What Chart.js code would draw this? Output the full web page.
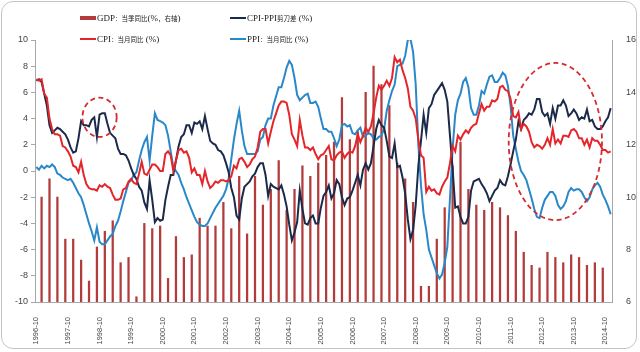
<!DOCTYPE html>
<html><head><meta charset="utf-8">
<script src="https://cdn.jsdelivr.net/npm/chart.js@4/dist/chart.umd.min.js"></script>
<style>
html,body{margin:0;padding:0;background:#fff;}
#wrap{position:relative;width:640px;height:352px;overflow:hidden;background:#fff;}
#frame{position:absolute;left:1px;top:1px;width:634px;height:346px;border:1px solid #c4c4c4;border-radius:12px;pointer-events:none;}
#c{position:absolute;left:0;top:0;}
#legend{position:absolute;left:0;top:0;width:640px;height:50px;font-family:"Liberation Serif","Times New Roman",serif;font-size:9px;color:#222;}
.item{position:absolute;height:12px;display:flex;align-items:center;white-space:nowrap;}
.sw{display:inline-block;width:16px;margin-right:1px;}
.cjk{font-family:"Noto Sans CJK SC",sans-serif;font-size:6.5px;}
</style></head>
<body>
<div id="wrap">
<canvas id="c" width="640" height="352"></canvas>
<div id="legend"></div>
<div id="frame"></div>
</div>
<script>
// ---- data ----
const startYear = 1996, startMonth = 10, monthCount = 219;   // 1996-10 .. 2014-12
const cpi = [
 7.0,6.9,7.0,
 5.9,5.6,4.0,3.2,2.8,2.8,2.7,1.9,1.8,1.5,1.1,0.4,
 0.3,-0.1,0.7,-0.3,-1.0,-1.3,-1.4,-1.4,-1.5,-1.1,-1.2,-1.0,
 -1.2,-1.3,-1.8,-2.2,-2.2,-2.1,-1.4,-1.3,-0.8,-0.6,-0.9,-1.0,
 -0.2,0.7,-0.2,-0.3,0.1,0.5,0.5,0.3,0.0,0.0,1.3,1.5,
 1.2,0.0,0.8,1.6,1.7,1.4,1.5,1.0,-0.1,0.2,-0.3,-0.3,
 -1.0,0.0,-0.8,-1.3,-1.1,-0.8,-0.9,-0.7,-0.7,-0.8,-0.7,-0.4,
 0.4,0.2,0.9,1.0,0.7,0.3,0.5,0.9,1.1,1.8,3.0,3.2,
 3.2,2.1,3.0,3.8,4.4,5.0,5.3,5.3,5.2,4.3,2.8,2.4,
 1.9,3.9,2.7,1.8,1.8,1.6,1.8,1.3,0.9,1.2,1.3,1.6,
 1.9,0.9,0.8,1.2,1.4,1.5,1.0,1.3,1.5,1.4,1.9,2.8,
 2.2,2.7,3.3,3.0,3.4,4.4,5.6,6.5,6.2,6.5,6.9,6.5,
 7.1,8.7,8.3,8.5,7.7,7.1,6.3,4.9,4.6,4.0,2.4,1.2,
 1.0,-1.6,-1.2,-1.5,-1.4,-1.7,-1.8,-1.2,-0.8,-0.5,0.6,1.9,
 1.5,2.7,2.4,2.8,3.1,2.9,3.3,3.5,3.6,4.4,5.1,4.6,
 4.9,4.9,5.4,5.3,5.5,6.4,6.5,6.2,6.1,5.5,4.2,4.1,
 4.5,3.2,3.6,3.4,3.0,2.2,1.8,2.0,1.9,1.7,2.0,2.5,
 2.0,3.2,2.1,2.4,2.1,2.7,2.7,2.6,3.1,3.2,3.0,2.5,
 2.5,2.0,2.4,1.8,2.5,2.3,2.3,2.0,1.6,1.6,1.4,1.5
];
const ppi = [
 0.3,0.1,0.4,
 0.2,0.4,0.3,0.5,0.3,-0.2,-0.3,-0.5,-0.6,-0.7,-0.6,-0.9,
 -1.3,-1.7,-2.0,-2.6,-3.3,-4.0,-4.6,-5.3,-4.3,-5.4,-5.6,-5.6,
 -5.3,-5.0,-4.8,-4.2,-3.8,-3.1,-2.3,-1.6,-0.9,-0.7,-0.3,-0.1,
 0.8,1.6,2.2,2.6,0.8,2.7,4.4,3.9,3.8,3.7,3.5,2.7,
 1.5,0.3,0.0,-0.3,-0.9,-1.4,-2.0,-2.5,-3.0,-3.5,-3.9,-4.1,
 -4.2,-4.2,-4.0,-3.6,-3.2,-2.8,-2.5,-2.2,-1.9,-1.4,-0.6,0.9,
 2.4,3.6,4.6,3.1,1.9,1.3,1.3,1.3,1.3,1.5,2.4,2.6,
 3.5,4.0,4.0,5.0,5.7,6.4,6.4,7.1,7.9,8.4,8.1,7.1,
 5.8,5.4,5.6,5.8,5.9,5.2,5.2,5.3,4.9,4.0,3.2,3.2,
 3.0,3.0,2.5,1.9,2.4,3.5,3.6,3.4,3.5,2.9,2.8,3.1,
 3.3,2.6,2.7,2.9,2.8,2.5,2.4,2.6,2.7,3.2,4.6,5.4,
 6.1,6.6,8.0,8.1,8.2,8.8,10.0,10.1,9.1,6.6,2.0,-1.1,
 -3.3,-4.5,-6.0,-6.6,-7.2,-7.8,-8.2,-7.9,-7.0,-5.8,-2.1,1.7,
 4.3,5.4,5.9,6.8,7.1,6.4,4.8,4.3,4.3,5.0,6.1,5.9,
 6.6,7.2,7.3,6.8,6.8,7.1,7.5,7.3,6.5,5.0,2.7,1.7,
 0.7,0.0,-0.3,-0.7,-1.4,-2.1,-2.9,-3.5,-3.6,-2.8,-2.2,-1.9,
 -1.6,-1.6,-1.9,-2.6,-2.9,-2.7,-2.3,-1.6,-1.3,-1.5,-1.4,-1.4,
 -1.6,-2.0,-2.3,-2.0,-1.4,-1.1,-0.9,-1.2,-1.8,-2.2,-2.7,-3.3
];
const spread = [
 6.9,7.0,6.8,
 5.9,5.0,3.5,2.9,3.1,3.3,3.2,3.0,2.8,2.4,1.8,1.4,
 1.5,2.5,3.8,3.5,3.5,3.4,3.9,4.1,2.6,4.3,4.4,4.4,
 3.6,2.9,2.7,2.5,1.7,1.3,1.3,1.2,0.8,0.2,-0.3,-0.6,
 -1.2,-1.5,-2.4,-2.9,-0.7,-2.2,-3.9,-3.6,-3.8,-3.7,-2.2,-1.2,
 -0.3,-0.3,0.8,1.9,2.6,2.8,3.5,3.5,2.9,3.7,3.6,3.8,
 3.2,4.2,3.2,2.3,2.1,2.0,1.6,1.5,1.2,0.6,-0.1,-1.3,
 -2.0,-3.4,-3.7,-2.1,-1.2,-1.0,-0.8,-0.4,-0.2,0.3,0.6,0.6,
 -0.3,-1.9,-1.0,-1.2,-1.3,-1.4,-1.1,-1.8,-2.7,-4.1,-5.3,-4.7,
 -3.9,-1.5,-2.9,-4.0,-4.1,-3.6,-3.4,-4.0,-4.0,-2.8,-1.9,-1.6,
 -1.1,-2.1,-1.7,-0.7,-1.0,-2.0,-2.6,-2.1,-2.0,-1.5,-0.9,-0.3,
 -1.1,0.1,0.6,0.1,0.6,1.9,3.2,3.9,3.5,3.3,2.3,1.1,
 1.0,2.1,0.3,0.4,-0.5,-1.7,-3.7,-5.2,-4.5,-2.6,0.4,2.3,
 4.3,2.9,4.8,5.1,5.8,6.1,6.4,6.7,6.2,5.3,2.7,0.2,
 -2.8,-2.7,-3.5,-4.0,-4.0,-3.5,-1.5,-0.8,-0.7,-0.6,-1.0,-1.3,
 -1.7,-2.3,-1.9,-1.5,-1.3,-0.7,-1.0,-1.1,-0.4,0.5,1.5,2.4,
 3.8,3.2,3.9,4.1,4.4,4.3,4.7,5.5,5.5,4.5,4.2,4.4,
 3.6,4.8,4.0,5.0,5.0,5.4,5.0,4.2,4.4,4.7,4.4,3.9,
 4.1,4.0,4.7,3.8,3.9,3.4,3.2,3.2,3.4,3.8,4.1,4.8
];
// quarterly GDP (right axis), quarters ending 1996-12 .. 2014-09
const gdpFirstQuarterEnd = '1996-12';
const gdp = [
 10.0,
 10.7,10.0,8.4,8.4,
 7.6,6.8,8.1,8.7,
 9.1,7.5,7.7,6.2,
 9.0,8.8,8.9,6.9,
 8.5,7.7,7.8,9.2,
 8.9,8.9,9.8,8.8,
 10.8,8.6,10.8,9.7,
 10.3,11.4,9.5,10.3,
 11.2,10.8,11.3,11.6,
 12.1,13.8,12.2,12.5,
 14.0,15.0,14.3,13.5,
 11.3,10.7,9.8,6.6,
 6.6,8.4,9.6,11.2,
 12.1,10.3,9.7,9.5,
 9.8,9.6,9.3,8.7,
 7.9,7.4,7.3,7.9,
 7.7,7.5,7.8,7.7,
 7.4,7.5,7.3
];
const seriesNames = {
  gdp: 'GDP：当季同比(%，右轴)',
  spread: 'CPI-PPI剪刀差 (%)',
  cpi: 'CPI：当月同比 (%)',
  ppi: 'PPI：当月同比 (%)'
};
const leftTicks = {min:-10, max:10, step:2};
const rightTicks = {min:6, max:16, step:2};
const tickEvery = 12;

// ---- build category labels ----
const months = [];
for (let i = 0; i < monthCount; i++) {
  const t = (startMonth - 1) + i;
  const y = startYear + Math.floor(t / 12);
  const m = t % 12 + 1;
  months.push(y + '-' + (m < 10 ? '0' + m : '' + m));
}
const gdpStart = months.indexOf(gdpFirstQuarterEnd);
const gdpMonthly = months.map(() => null);
gdp.forEach((v, q) => { gdpMonthly[gdpStart + q * 3] = v; });

// annotation ellipses (in data units)
const ellipses = [
  {center:'1998-10', value:4.1, halfMonths:6.5, halfValue:1.5},
  {center:'2013-03', value:2.25, halfMonths:17.7, halfValue:6.0}
];

const COLORS = {gdp:'#b23b3b', spread:'#1c2a4a', cpi:'#e4262b', ppi:'#2a88c9', ellipse:'#d52a30'};

const ellipsePlugin = {
  id:'ellipses',
  afterDatasetsDraw(chart) {
    const {ctx, scales:{x, y}} = chart;
    const step = x.getPixelForValue(1) - x.getPixelForValue(0);
    ctx.save();
    ctx.strokeStyle = COLORS.ellipse;
    ctx.lineWidth = 1.8;
    ctx.setLineDash([5, 3.5]);
    ellipses.forEach(e => {
      const idx = months.indexOf(e.center);
      const cx = x.getPixelForValue(idx);
      const cy = y.getPixelForValue(e.value);
      const rx = e.halfMonths * step;
      const ry = Math.abs(y.getPixelForValue(e.value + e.halfValue) - cy);
      ctx.beginPath();
      ctx.ellipse(cx, cy, rx, ry, 0, 0, Math.PI * 2);
      ctx.stroke();
    });
    ctx.restore();
  }
};

const tickFont = {family:'"Liberation Sans", Arial, sans-serif', size:9};
const chart = new Chart(document.getElementById('c'), {
  type:'bar',
  data:{
    labels: months,
    datasets:[
      {type:'line', label:seriesNames.spread, data:spread, borderColor:COLORS.spread, backgroundColor:COLORS.spread, borderWidth:2, pointRadius:0, yAxisID:'y', order:2},
      {type:'line', label:seriesNames.cpi, data:cpi, borderColor:COLORS.cpi, backgroundColor:COLORS.cpi, borderWidth:2, pointRadius:0, yAxisID:'y', order:1},
      {type:'line', label:seriesNames.ppi, data:ppi, borderColor:COLORS.ppi, backgroundColor:COLORS.ppi, borderWidth:2, pointRadius:0, yAxisID:'y', order:3},
      {type:'bar', label:seriesNames.gdp, data:gdpMonthly, backgroundColor:COLORS.gdp, barThickness:1.6, yAxisID:'y1', order:10}
    ]
  },
  options:{
    responsive:false, animation:false, devicePixelRatio:1,
    layout:{padding:{top:40, left:0, right:0, bottom:0}},
    plugins:{legend:{display:false}, tooltip:{enabled:false}},
    scales:{
      x:{
        offset:true,
        grid:{display:false},
        border:{display:true, color:'#a8a8a8', width:1},
        ticks:{autoSkip:false, maxRotation:90, minRotation:90, padding:7, color:'#444',
               font:{family:tickFont.family, size:7.5},
               callback:(v, i) => (i % tickEvery === 0 ? months[i] : null)},
        afterFit(s){ s.height = 50; }
      },
      y:{
        position:'left', min:leftTicks.min, max:leftTicks.max,
        ticks:{stepSize:leftTicks.step, color:'#444', font:tickFont, padding:3},
        grid:{display:true, drawOnChartArea:false, drawTicks:true, tickLength:4, color:'#a8a8a8'},
        border:{display:true, color:'#a8a8a8', width:1},
        afterFit(s){ s.width = 35; }
      },
      y1:{
        position:'right', min:rightTicks.min, max:rightTicks.max,
        ticks:{stepSize:rightTicks.step, color:'#444', font:tickFont, padding:6},
        grid:{display:false},
        border:{display:true, color:'#a8a8a8', width:1},
        afterFit(s){ s.width = 28; }
      }
    }
  },
  plugins:[ellipsePlugin]
});

// ---- HTML legend (2 x 2) ----
const legendOrder = [
  {key:'gdp', left:80, top:12, h:4},
  {key:'spread', left:230, top:12, h:2.5},
  {key:'cpi', left:80, top:33, h:2.5},
  {key:'ppi', left:230, top:33, h:2.5}
];
const leg = document.getElementById('legend');
legendOrder.forEach(o => {
  const div = document.createElement('div');
  div.className = 'item';
  div.style.left = o.left + 'px';
  div.style.top = o.top + 'px';
  const sw = document.createElement('span');
  sw.className = 'sw';
  sw.style.height = o.h + 'px';
  sw.style.background = COLORS[o.key];
  div.appendChild(sw);
  const txt = document.createElement('span');
  const parts = seriesNames[o.key].split(/([\u3000-\u9fff\uff00-\uffef]+)/);
  parts.forEach(p => {
    if (!p) return;
    const s = document.createElement('span');
    if (/[\u3000-\u9fff\uff00-\uffef]/.test(p)) s.className = 'cjk';
    s.textContent = p;
    txt.appendChild(s);
  });
  div.appendChild(txt);
  leg.appendChild(div);
});
</script>
</body></html>
